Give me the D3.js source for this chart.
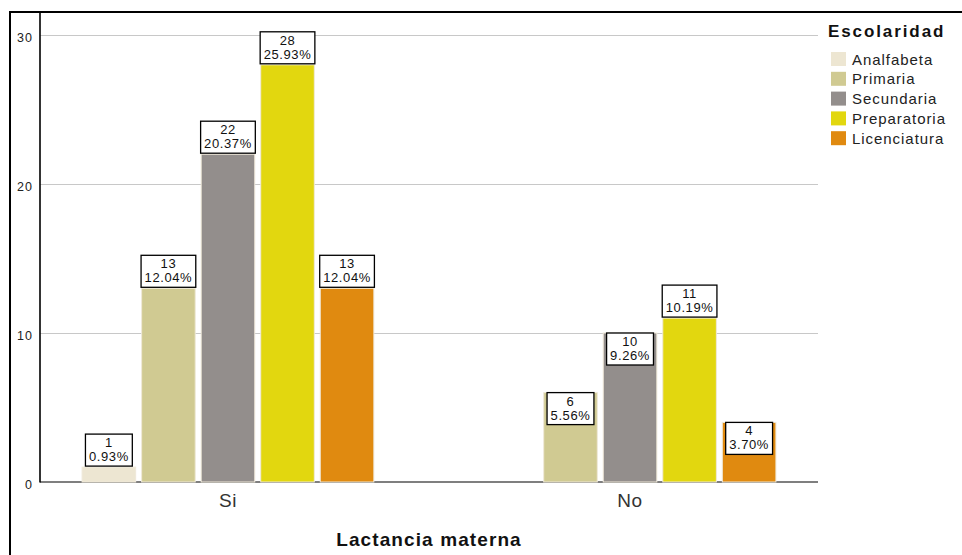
<!DOCTYPE html>
<html>
<head>
<meta charset="utf-8">
<script src="https://cdn.jsdelivr.net/npm/d3@7"></script>
<style>
  html, body { margin: 0; padding: 0; background: #fff; }
  svg { display: block; font-family: "Liberation Sans", Arial, sans-serif; }
</style>
</head>
<body>
<svg id="chart" width="962" height="555"></svg>
<script>
// ---- data ----
const categories = ["Si", "No"];
const levels = ["Analfabeta", "Primaria", "Secundaria", "Preparatoria", "Licenciatura"];
const countsSi = [1, 13, 22, 28, 13];
const countsNo = [0, 6, 10, 11, 4];
const yTicks = [0, 10, 20, 30];
const colors = ["#EDE6D2", "#D0CA92", "#938E8C", "#E2D70F", "#E08A10"];
const xTitle = "Lactancia materna";
const legendTitle = "Escolaridad";

// ---- build ----
const series = { "Si": countsSi, "No": countsNo };
const total = d3.sum(countsSi) + d3.sum(countsNo);
const pct = d3.format(".2%");

const svg = d3.select("#chart");
const left = 40, right = 818, base = 482;

const y = d3.scaleLinear().domain([0, 30]).range([base, 35]);
const x0 = d3.scaleBand().domain(categories).range([left, right]).paddingInner(0.261).paddingOuter(0.098);
const x1 = d3.scaleBand().domain(levels).range([0, x0.bandwidth()]).paddingInner(0.1).paddingOuter(0.045);
const color = d3.scaleOrdinal().domain(levels).range(colors);

// frame
svg.append("line").attr("x1", 9).attr("x2", 962).attr("y1", 12).attr("y2", 12)
  .attr("stroke", "#000").attr("stroke-width", 2);
svg.append("line").attr("x1", 10).attr("x2", 10).attr("y1", 11).attr("y2", 555)
  .attr("stroke", "#000").attr("stroke-width", 2);

// gridlines
svg.append("g").selectAll("line").data(yTicks.filter(d => d > 0)).join("line")
  .attr("x1", left).attr("x2", right)
  .attr("y1", d => y(d) + 0.5).attr("y2", d => y(d) + 0.5)
  .attr("stroke", "#C8C8C8").attr("stroke-width", 1);

// y tick labels
svg.append("g").selectAll("text").data(yTicks).join("text")
  .attr("x", 33).attr("y", d => y(d) + 6.5)
  .attr("text-anchor", "end")
  .attr("font-size", 12.5).attr("letter-spacing", 1)
  .attr("fill", "#222")
  .text(d => d);

// baseline
svg.append("line").attr("x1", left).attr("x2", right).attr("y1", base).attr("y2", base)
  .attr("stroke", "#555").attr("stroke-width", 1.5);

// y axis line
svg.append("line").attr("x1", left).attr("x2", left).attr("y1", 12).attr("y2", base + 0.5)
  .attr("stroke", "#000").attr("stroke-width", 1.6);

// bars
const barData = [];
categories.forEach(c => {
  levels.forEach((l, i) => {
    barData.push({ cat: c, level: l, value: series[c][i] });
  });
});

const bars = barData.filter(d => d.value > 0);

svg.append("g").selectAll("rect").data(bars).join("rect")
  .attr("x", d => x0(d.cat) + x1(d.level))
  .attr("y", d => y(d.value))
  .attr("width", x1.bandwidth())
  .attr("height", d => base - y(d.value))
  .attr("fill", d => color(d.level))
  .attr("stroke", "#EFE9D9").attr("stroke-width", 1);

// labels
const lg = svg.append("g");
bars.forEach(d => {
  const cx = x0(d.cat) + x1(d.level) + x1.bandwidth() / 2;
  const top = y(d.value);
  const inside = d.value >= 3 && d.value <= 10;
  const boxH = 32;
  const boxTop = inside ? top : top - boxH - 1;
  const g = lg.append("g");
  const rect = g.append("rect");
  const t1 = g.append("text").attr("x", cx).attr("y", boxTop + 13)
    .attr("text-anchor", "middle").attr("font-size", 13).attr("letter-spacing", 0.6)
    .attr("fill", "#111").text(d.value);
  const t2 = g.append("text").attr("x", cx).attr("y", boxTop + 27)
    .attr("text-anchor", "middle").attr("font-size", 13).attr("letter-spacing", 0.6)
    .attr("fill", "#111").text(pct(d.value / total));
  const w = Math.max(t1.node().getComputedTextLength(), t2.node().getComputedTextLength()) + 7;
  rect.attr("x", cx - w / 2).attr("y", boxTop).attr("width", w).attr("height", boxH)
    .attr("fill", "#fff").attr("stroke", "#000").attr("stroke-width", 1.3);
});

// category labels
svg.append("g").selectAll("text").data(categories).join("text")
  .attr("x", d => x0(d) + x0.bandwidth() / 2)
  .attr("y", 507)
  .attr("text-anchor", "middle")
  .attr("font-size", 19).attr("letter-spacing", 0.6)
  .attr("fill", "#333")
  .text(d => d);

// x title
svg.append("text")
  .attr("x", (left + right) / 2).attr("y", 546)
  .attr("text-anchor", "middle")
  .attr("font-size", 19).attr("font-weight", "bold").attr("letter-spacing", 1.1)
  .attr("fill", "#111")
  .text(xTitle);

// legend
const leg = svg.append("g");
leg.append("text").attr("x", 828).attr("y", 37)
  .attr("font-size", 17).attr("font-weight", "bold").attr("letter-spacing", 1.9)
  .attr("fill", "#111").text(legendTitle);
const items = leg.selectAll("g.item").data(levels).join("g").attr("class", "item")
  .attr("transform", (d, i) => `translate(831, ${52 + i * 19.8})`);
items.append("rect").attr("width", 15).attr("height", 14)
  .attr("fill", d => color(d));
items.append("text").attr("x", 21).attr("y", 12.5)
  .attr("font-size", 15).attr("letter-spacing", 0.95)
  .attr("fill", "#222").text(d => d);
</script>
</body>
</html>
